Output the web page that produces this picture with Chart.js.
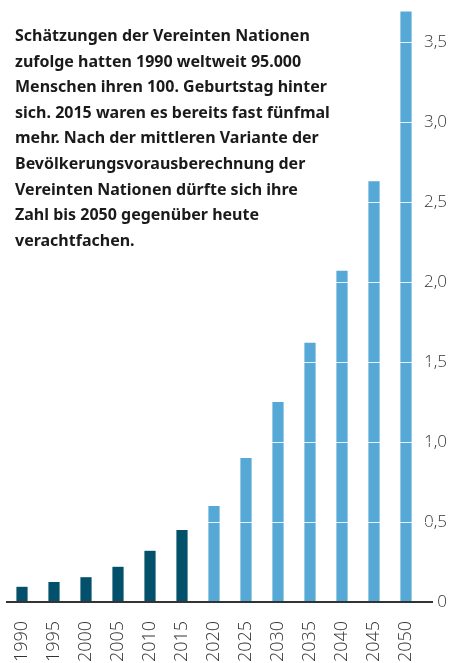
<!DOCTYPE html>
<html>
<head>
<meta charset="utf-8">
<script src="https://cdn.jsdelivr.net/npm/chart.js@4"></script>
<style>
  html, body { margin: 0; padding: 0; background: #fff; }
  #wrap { position: relative; width: 450px; height: 663px; overflow: hidden; }
  #note {
    position: absolute; left: 15px; top: 23px; z-index: 2;
    font-family: "Noto Sans", sans-serif; font-weight: 700;
    font-size: 16px; line-height: 25.6px; color: #1a1a1a;
    white-space: pre;
  }
</style>
</head>
<body>
<div id="wrap">
  <div id="note">Schätzungen der Vereinten Nationen
zufolge hatten 1990 weltweit 95.000
Menschen ihren 100. Geburtstag hinter
sich. 2015 waren es bereits fast fünfmal
mehr. Nach der mittleren Variante der
Bevölkerungsvorausberechnung der
Vereinten Nationen dürfte sich ihre
Zahl bis 2050 gegenüber heute
verachtfachen.</div>
  <canvas id="chart" width="450" height="663"></canvas>
</div>
<script>
/* ==============================
   DATA
============================== */
const years = ['1990', '1995', '2000', '2005', '2010', '2015', '2020',
               '2025', '2030', '2035', '2040', '2045', '2050'];
// Hundertjährige weltweit, Millionen
const centenarians = [0.095, 0.125, 0.155, 0.22, 0.32, 0.45, 0.6,
                      0.9, 1.25, 1.62, 2.07, 2.63, 3.69];
const firstProjectedYear = 2020;
const yTicks = [0, 0.5, 1, 1.5, 2, 2.5, 3, 3.5];

const DARK = '#03506a';
const LIGHT = '#56a9d6';

/* ==============================
   BAR CHART
============================== */
function renderChart() {
    const ctx = document.getElementById('chart');
    const family = '"Open Sans", sans-serif';

    new Chart(ctx.getContext('2d'), {
        type: 'bar',
        data: {
            labels: years,
            datasets: [{
                data: centenarians,
                backgroundColor: years.map(y => Number(y) >= firstProjectedYear ? LIGHT : DARK),
                barPercentage: 0.35,
                categoryPercentage: 1
            }]
        },
        options: {
            responsive: false,
            animation: false,
            layout: { padding: { top: 10, left: 6, right: 17, bottom: 0 } },
            plugins: { legend: { display: false }, tooltip: { enabled: false } },
            scales: {
                x: {
                    grid: { display: false },
                    border: { display: false },
                    ticks: {
                        font: { family: family, size: 18, weight: 300 },
                        color: '#333',
                        minRotation: 90, maxRotation: 90,
                        padding: 11
                    },
                    afterFit: s => { s.height = 61; }
                },
                y: {
                    position: 'right',
                    min: 0, max: 3.7,
                    z: 1,
                    afterBuildTicks: s => { s.ticks = yTicks.map(v => ({ value: v })); },
                    afterFit: s => {
                        s.width = 11;
                        s.paddingTop = 0;
                        s.paddingBottom = 0;
                    },
                    grid: {
                        z: 1,
                        color: c => c.tick && c.tick.value === 0 ? '#333' : 'rgba(255,255,255,0.85)',
                        lineWidth: c => c.tick && c.tick.value === 0 ? 2 : 1,
                        tickLength: 11
                    },
                    border: { display: false },
                    ticks: {
                        font: { family: family, size: 17, weight: 300 },
                        color: '#333',
                        mirror: true,
                        padding: 25,
                        callback: v => v === 0 ? '0' : v.toFixed(1).replace('.', ',')
                    }
                }
            }
        }
    });
}

document.addEventListener('DOMContentLoaded', renderChart);
</script>
</body>
</html>
